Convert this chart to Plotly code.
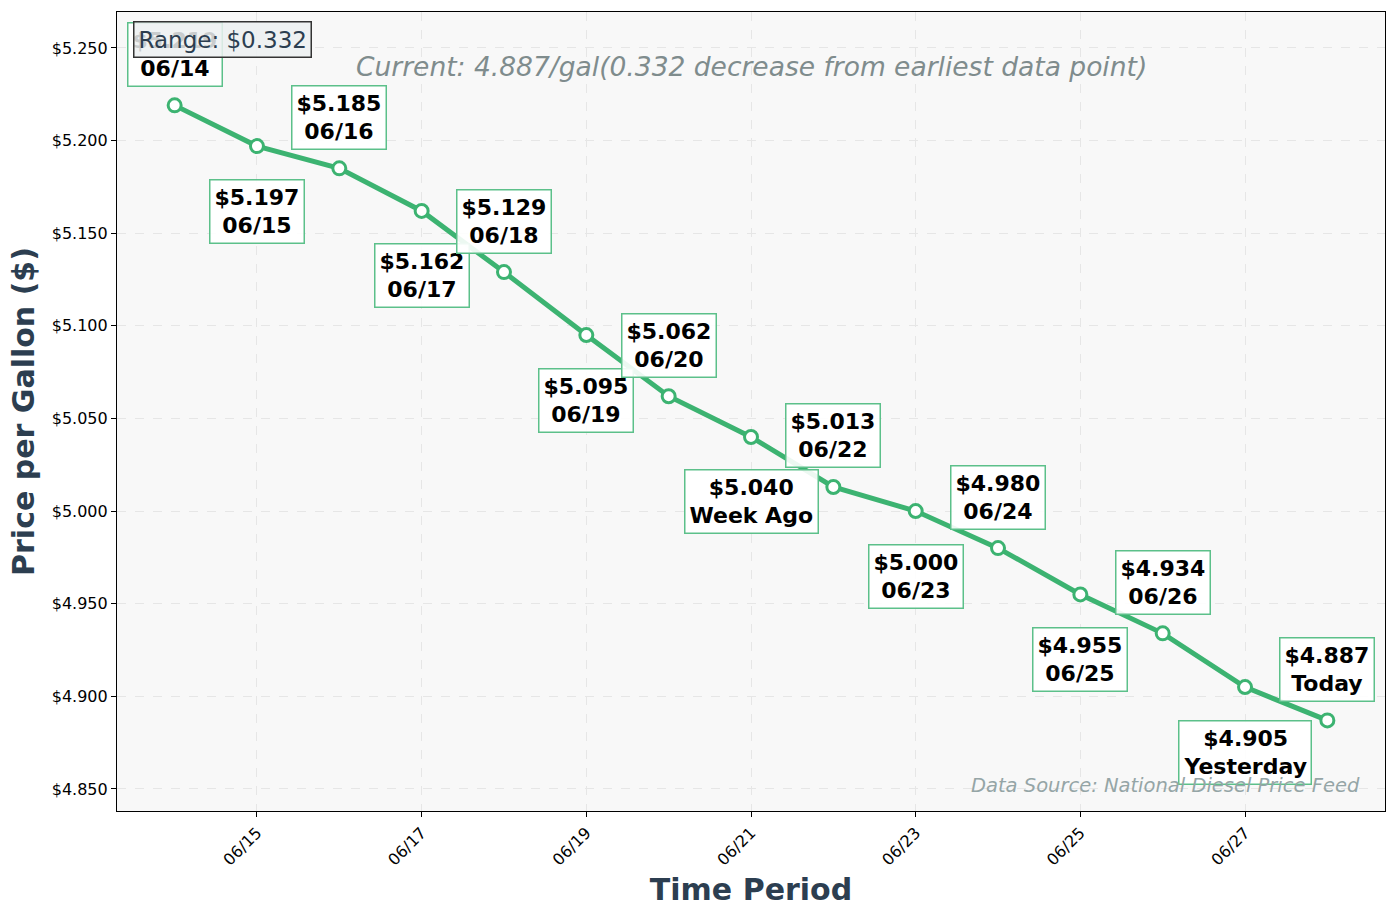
import plotly.graph_objects as go

dates = ["2024-06-14", "2024-06-15", "2024-06-16", "2024-06-17", "2024-06-18",
         "2024-06-19", "2024-06-20", "2024-06-21", "2024-06-22", "2024-06-23",
         "2024-06-24", "2024-06-25", "2024-06-26", "2024-06-27", "2024-06-28"]
prices = [5.219, 5.197, 5.185, 5.162, 5.129, 5.095, 5.062, 5.040, 5.013, 5.000,
          4.980, 4.955, 4.934, 4.905, 4.887]
point_labels = ["06/14", "06/15", "06/16", "06/17", "06/18", "06/19", "06/20",
                "Week Ago", "06/22", "06/23", "06/24", "06/25", "06/26",
                "Yesterday", "Today"]

GREEN = "#3cb371"
DARK = "#2c3e50"
FONT = "DejaVu Sans"

fig = go.Figure()
fig.add_trace(go.Scatter(
    x=dates, y=prices, mode="lines+markers",
    line=dict(color=GREEN, width=5),
    marker=dict(size=13, color="white", line=dict(color=GREEN, width=3)),
    showlegend=False, hoverinfo="skip"))

annotations = []
for i, (d, p, lab) in enumerate(zip(dates, prices, point_labels)):
    above = (i % 2 == 0)
    annotations.append(dict(
        x=d, y=p, xref="x", yref="y", showarrow=False,
        text=f"<b>${p:.3f}<br>{lab}</b>",
        font=dict(family=FONT, size=22, color="black"),
        bgcolor="rgba(255,255,255,0.9)", bordercolor="#5cc08a", borderwidth=1.5,
        borderpad=4, xanchor="center", yanchor="middle",
        yshift=51 if above else -65))

rng = max(prices) - min(prices)
annotations.append(dict(
    x=0.5, y=0.932, xref="paper", yref="paper", showarrow=False,
    text=f"<i>Current: {prices[-1]:.3f}/gal({rng:.3f} decrease from earliest data point)</i>",
    font=dict(family=FONT, size=26.5, color="#7f8c8d"),
    xanchor="center", yanchor="middle"))
annotations.append(dict(
    x=0.0126, y=0.9887, xref="paper", yref="paper", showarrow=False,
    text=f"Range: ${rng:.3f}",
    font=dict(family=FONT, size=23, color=DARK),
    bgcolor="rgba(236,240,241,0.85)", bordercolor="#333333", borderwidth=1.5,
    borderpad=4, xanchor="left", yanchor="top"))
annotations.append(dict(
    x=0.982, y=0.032, xref="paper", yref="paper", showarrow=False,
    text="<i>Data Source: National Diesel Price Feed</i>",
    font=dict(family=FONT, size=19.5, color="#95a5a6"),
    xanchor="right", yanchor="middle"))

fig.update_layout(
    width=1397, height=918,
    margin=dict(l=117, r=12, t=12, b=107),
    paper_bgcolor="white", plot_bgcolor="#f8f8f8",
    annotations=annotations,
    font=dict(family=FONT),
    xaxis=dict(
        type="date", range=["2024-06-13 07:12", "2024-06-28 16:48"],
        tickformat="%m/%d", dtick=2 * 86400000, tick0="2024-06-15",
        tickangle=-45, tickfont=dict(family=FONT, size=16, color="black"),
        ticks="outside", ticklen=5, tickcolor="black",
        showline=True, linecolor="black", linewidth=1.2, mirror=True,
        showgrid=True, gridcolor="#e6e6e6", griddash="dash", zeroline=False,
        title=dict(text="<b>Time Period</b>", font=dict(family=FONT, size=30, color=DARK), standoff=10)),
    yaxis=dict(
        range=[4.8381, 5.2694], tickprefix="$", tickformat=".3f", dtick=0.05,
        tick0=4.85, tickfont=dict(family=FONT, size=16, color="black"),
        ticks="outside", ticklen=5, tickcolor="black",
        showline=True, linecolor="black", linewidth=1.2, mirror=True,
        showgrid=True, gridcolor="#e6e6e6", griddash="dash", zeroline=False,
        title=dict(text="<b>Price per Gallon ($)</b>", font=dict(family=FONT, size=30, color=DARK), standoff=8)),
)

fig.write_html("out.html")
